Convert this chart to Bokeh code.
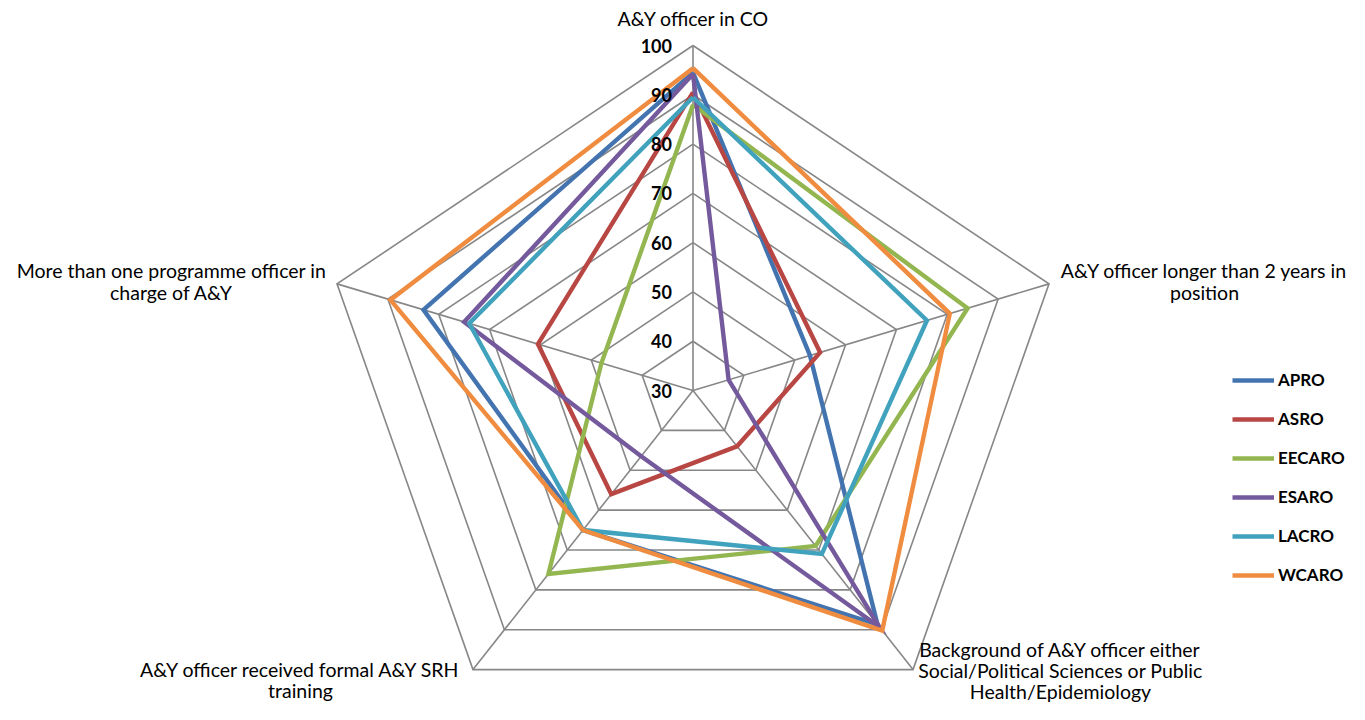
import numpy as np
from bokeh.plotting import figure
from bokeh.models import Legend, LegendItem, Range1d
from bokeh.core.properties import value
from bokeh.embed import file_html
from bokeh.resources import INLINE

# ---------------- data ----------------
axis_labels = [
    ["A&Y officer in CO"],
    ["A&Y officer longer than 2 years in", "position"],
    ["Background of A&Y officer either", "Social/Political Sciences or Public", "Health/Epidemiology"],
    ["A&Y officer received formal A&Y SRH", "training"],
    ["More than one programme officer in", "charge of A&Y"],
]
series_names = ["APRO", "ASRO", "EECARO", "ESARO", "LACRO", "WCARO"]
apro = [94.5, 53, 88.7, 65, 83]
asro = [90.5, 55, 44, 56, 60.5]
eecaro = [88, 84, 69, 76, 48]
esaro = [94.2, 37, 89.3, 46.5, 75]
lacro = [89.5, 76, 71, 65, 74]
wcaro = [95.4, 80.5, 90.2, 65, 89.5]
series_values = [apro, asro, eecaro, esaro, lacro, wcaro]
tick_values = [30, 40, 50, 60, 70, 80, 90, 100]
tick_labels = ["30", "40", "50", "60", "70", "80", "90", "100"]
colors = ["#4474B0", "#B84744", "#93B651", "#745A9C", "#41A2BD", "#EF8C3F"]

# ---------------- layout ----------------
R_MIN, R_MAX = 30, 100
W, H = 1349, 704
CX, CY = 692.5, 390.0          # px of chart centre
PX_Y = 345.0 / (R_MAX - R_MIN)  # px per unit vertically
PX_X = PX_Y * 1.085             # horizontal stretch as in the reference

x0 = (0 - CX) / PX_X
x1 = (W - CX) / PX_X
y1 = CY / PX_Y
y0 = (CY - H) / PX_Y

def px2x(px):
    return (px - CX) / PX_X

def py2y(py):
    return (CY - py) / PX_Y

n = len(axis_labels)
theta = np.arange(n) * 2 * np.pi / n

def to_xy(vals):
    r = np.asarray(vals, dtype=float) - R_MIN
    return r * np.sin(theta), r * np.cos(theta)

p = figure(width=W, height=H, x_range=Range1d(x0, x1), y_range=Range1d(y0, y1),
           output_backend="svg", toolbar_location=None, min_border=0,
           outline_line_color=None, background_fill_color="white")
p.axis.visible = False
p.xgrid.visible = False
p.ygrid.visible = False

GRID = "#878787"
for tv in tick_values[1:]:
    gx, gy = to_xy([tv] * n)
    p.line(list(gx) + [gx[0]], list(gy) + [gy[0]], line_color=GRID, line_width=1.6,
           line_join="miter")
ox, oy = to_xy([R_MAX] * n)
p.segment(x0=[0] * n, y0=[0] * n, x1=list(ox), y1=list(oy), line_color=GRID, line_width=1.6)

renderers = []
for name, vals, col in zip(series_names, series_values, colors):
    sx, sy = to_xy(vals)
    r = p.line(list(sx) + [sx[0]], list(sy) + [sy[0]], line_color=col, line_width=4.4,
               line_join="miter")
    renderers.append(r)

p.text(x=[0] * len(tick_values), y=[t - R_MIN for t in tick_values], text=tick_labels,
       x_offset=-21, text_align="right", text_baseline="middle",
       text_font=value("Lato"), text_font_style="bold", text_font_size="18px",
       text_color="#000000")

label_pos = [
    [(693, 18)],
    [(1204, 270), (1204, 292)],
    [(1060, 649), (1060, 670), (1060, 691)],
    [(300, 669), (300, 690)],
    [(171, 270), (171, 292)],
]
lx, ly, lt = [], [], []
for lines, poss in zip(axis_labels, label_pos):
    for t, (px, py) in zip(lines, poss):
        lx.append(px2x(px)); ly.append(py2y(py)); lt.append(t)
p.text(x=lx, y=ly, text=lt, text_align="center", text_baseline="middle",
       text_font=value("Lato"), text_font_size="19.5px", text_color="#000000")

items = [LegendItem(label=nm, renderers=[r]) for nm, r in zip(series_names, renderers)]
legend = Legend(items=items, location=(1232, 119),
                glyph_width=42, glyph_height=20, label_height=20, spacing=18, label_standoff=4,
                padding=0, margin=0, border_line_alpha=0, background_fill_alpha=0,
                label_text_font="Lato", label_text_font_style="bold",
                label_text_font_size="17px", label_text_color="#000000")
p.add_layout(legend, "center")

open("out.html", "w").write(file_html(p, INLINE))
